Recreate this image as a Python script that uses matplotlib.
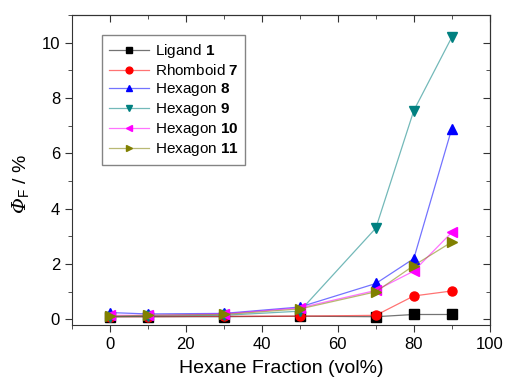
import matplotlib.pyplot as plt
from matplotlib.colors import to_rgba
from matplotlib.ticker import MultipleLocator

# hexane fraction (vol%)
hexane = [0, 10, 30, 50, 70, 80, 90]

ligand_1 = [0.10, 0.10, 0.10, 0.12, 0.10, 0.18, 0.18]
rhomboid_7 = [0.10, 0.10, 0.12, 0.12, 0.15, 0.85, 1.03]
hexagon_8 = [0.25, 0.20, 0.22, 0.45, 1.30, 2.20, 6.90]
hexagon_9 = [0.10, 0.12, 0.15, 0.30, 3.30, 7.55, 10.20]
hexagon_10 = [0.15, 0.15, 0.20, 0.42, 1.05, 1.75, 3.15]
hexagon_11 = [0.12, 0.15, 0.18, 0.38, 1.00, 1.95, 2.80]

series = [
    (ligand_1, 'Ligand $\\mathbf{1}$', 'black', 's'),
    (rhomboid_7, 'Rhomboid $\\mathbf{7}$', 'red', 'o'),
    (hexagon_8, 'Hexagon $\\mathbf{8}$', 'blue', '^'),
    (hexagon_9, 'Hexagon $\\mathbf{9}$', '#008080', 'v'),
    (hexagon_10, 'Hexagon $\\mathbf{10}$', 'magenta', '<'),
    (hexagon_11, 'Hexagon $\\mathbf{11}$', '#808000', '>'),
]

plt.rcParams['font.family'] = ['Liberation Sans', 'DejaVu Sans']
plt.rcParams['mathtext.fontset'] = 'custom'
# mathtext keeps capital Greek upright in \mathit, so use an italic "rm" font
plt.rcParams['mathtext.rm'] = 'DejaVu Serif:italic'
plt.rcParams['mathtext.sf'] = 'Liberation Sans'
plt.rcParams['mathtext.bf'] = 'Liberation Sans:bold'

fig = plt.figure(figsize=(5.06, 3.86), dpi=100)
ax = fig.add_axes([0.142, 0.158, 0.826, 0.803])

for y, label, color, marker in series:
    # lighter connecting line, solid markers
    ax.plot(hexane, y, color=to_rgba(color, 0.55), lw=0.9, marker=marker, ms=6.5,
            mec=color, mfc=color, label=label)

ax.set_xlim(-10, 100)
ax.set_ylim(-0.2, 11)
ax.xaxis.set_major_locator(MultipleLocator(20))
ax.xaxis.set_minor_locator(MultipleLocator(10))
ax.yaxis.set_major_locator(MultipleLocator(2))
ax.yaxis.set_minor_locator(MultipleLocator(1))

ax.tick_params(which='both', direction='out', labelsize=12, top=False, right=False,
               color='#333333')
ax.tick_params(which='major', length=5)
ax.tick_params(which='minor', length=3)

# inward ticks on top and right
sec_x = ax.secondary_xaxis('top')
sec_x.xaxis.set_major_locator(MultipleLocator(20))
sec_x.xaxis.set_minor_locator(MultipleLocator(10))
sec_x.tick_params(which='both', direction='in', labeltop=False, color='#333333')
sec_x.tick_params(which='major', length=5)
sec_x.tick_params(which='minor', length=3)
sec_y = ax.secondary_yaxis('right')
sec_y.yaxis.set_major_locator(MultipleLocator(2))
sec_y.yaxis.set_minor_locator(MultipleLocator(1))
sec_y.tick_params(which='both', direction='in', labelright=False, color='#333333')
sec_y.tick_params(which='major', length=5)
sec_y.tick_params(which='minor', length=3)

for s in ax.spines.values():
    s.set_color('#333333')
sec_x.spines['top'].set_color('#333333')
sec_y.spines['right'].set_color('#333333')

ax.set_xlabel('Hexane Fraction (vol%)', fontsize=14, labelpad=6)
ax.set_ylabel('$\\Phi_{\\mathsf{F}}$ / %', fontsize=14)
ax.yaxis.set_label_coords(-0.095, 0.455)

ax.legend(loc='upper left', bbox_to_anchor=(0.072, 0.935), fontsize=11,
          frameon=True, fancybox=False, edgecolor='#666666', borderpad=0.45,
          labelspacing=0.2, handlelength=2.6, handletextpad=0.4,
          borderaxespad=0, markerscale=0.75)

fig.savefig('out.png', dpi=100)
